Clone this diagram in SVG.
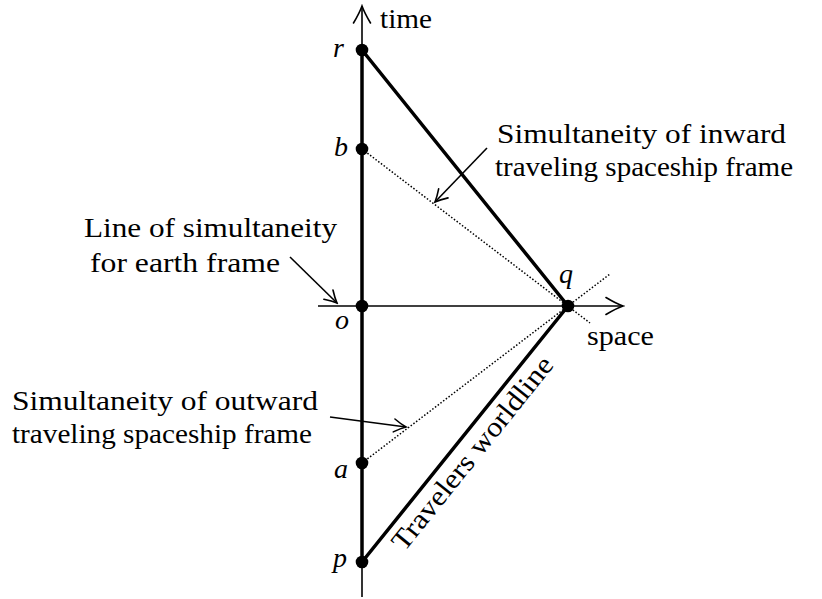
<svg xmlns="http://www.w3.org/2000/svg" width="822" height="599" viewBox="0 0 822 599">
<defs>
<marker id="axh" markerUnits="userSpaceOnUse" viewBox="-22 -12 24 24" refX="0" refY="0" markerWidth="24" markerHeight="24" orient="auto">
<path d="M-17,-8.5 Q-7,-2.5 0,0 Q-7,2.5 -17,8.5" fill="none" stroke="#000" stroke-width="1.6" stroke-linecap="round"/>
</marker>
<marker id="arh" markerUnits="userSpaceOnUse" viewBox="-16 -10 18 20" refX="0" refY="0" markerWidth="18" markerHeight="20" orient="auto">
<path d="M-12,-6.5 Q-5,-2 0,0 Q-5,2 -12,6.5" fill="none" stroke="#000" stroke-width="1.6" stroke-linecap="round"/>
</marker>
<style>
.thin{stroke:#000;stroke-width:1.6;fill:none}
.thick{stroke:#000;stroke-width:3.5;fill:none;stroke-linecap:round}
.dotl{stroke:#000;stroke-width:1.5;stroke-dasharray:1.5 1.9;fill:none}
.t{font-family:"Liberation Serif","Times New Roman",serif;font-size:28px;fill:#000}
.m{font-style:italic}
.pt{fill:#000}
</style>
</defs>
<rect width="822" height="599" fill="#fff"/>
<g id="connectors">
<path class="thin" d="M362,597 L362,6" marker-end="url(#axh)"/>
<path class="thin" d="M318,306 L623,306" marker-end="url(#axh)"/>
<path class="thick" d="M362,50 L362,562"/>
<path class="thick" d="M362,50 L568,306"/>
<path class="thick" d="M362,562 L568,306"/>
<path class="dotl" d="M362,149 L590,323"/>
<path class="dotl" d="M362,463 L610,274"/>
<path class="thin" d="M290,257 L337,303" marker-end="url(#arh)"/>
<path class="thin" d="M487,148 L435,202" marker-end="url(#arh)"/>
<path class="thin" d="M330,417 L406,427" marker-end="url(#arh)"/>
</g>
<g id="node-r"><circle class="pt" cx="362" cy="50" r="6.3"/><text class="t m" x="333" y="57">r</text></g>
<g id="node-b"><circle class="pt" cx="362" cy="149" r="6.3"/><text class="t m" x="334" y="156">b</text></g>
<g id="node-o"><circle class="pt" cx="362" cy="306" r="6.3"/><text class="t m" x="335" y="329">o</text></g>
<g id="node-a"><circle class="pt" cx="362" cy="463" r="6.3"/><text class="t m" x="334" y="478">a</text></g>
<g id="node-p"><circle class="pt" cx="362" cy="562" r="6.3"/><text class="t m" x="333" y="567">p</text></g>
<g id="node-q"><circle class="pt" cx="568" cy="306" r="6.3"/><text class="t m" x="559" y="283">q</text></g>
<g id="label-time"><text class="t" x="380" y="28" textLength="52" lengthAdjust="spacingAndGlyphs">time</text></g>
<g id="label-space"><text class="t" x="587" y="345" textLength="67" lengthAdjust="spacingAndGlyphs">space</text></g>
<g id="label-inward">
<text class="t" x="497" y="143" textLength="289" lengthAdjust="spacingAndGlyphs">Simultaneity of inward</text>
<text class="t" x="495" y="176" textLength="298" lengthAdjust="spacingAndGlyphs">traveling spaceship frame</text>
</g>
<g id="label-earth">
<text class="t" x="84" y="237" textLength="253" lengthAdjust="spacingAndGlyphs">Line of simultaneity</text>
<text class="t" x="90" y="272" textLength="190" lengthAdjust="spacingAndGlyphs">for earth frame</text>
</g>
<g id="label-outward">
<text class="t" x="12" y="410" textLength="306" lengthAdjust="spacingAndGlyphs">Simultaneity of outward</text>
<text class="t" x="12" y="443" textLength="300" lengthAdjust="spacingAndGlyphs">traveling spaceship frame</text>
</g>
<g id="label-worldline"><text class="t" transform="translate(479.5,459) rotate(-51.2)" text-anchor="middle" textLength="240" lengthAdjust="spacingAndGlyphs">Travelers worldline</text></g>
</svg>
